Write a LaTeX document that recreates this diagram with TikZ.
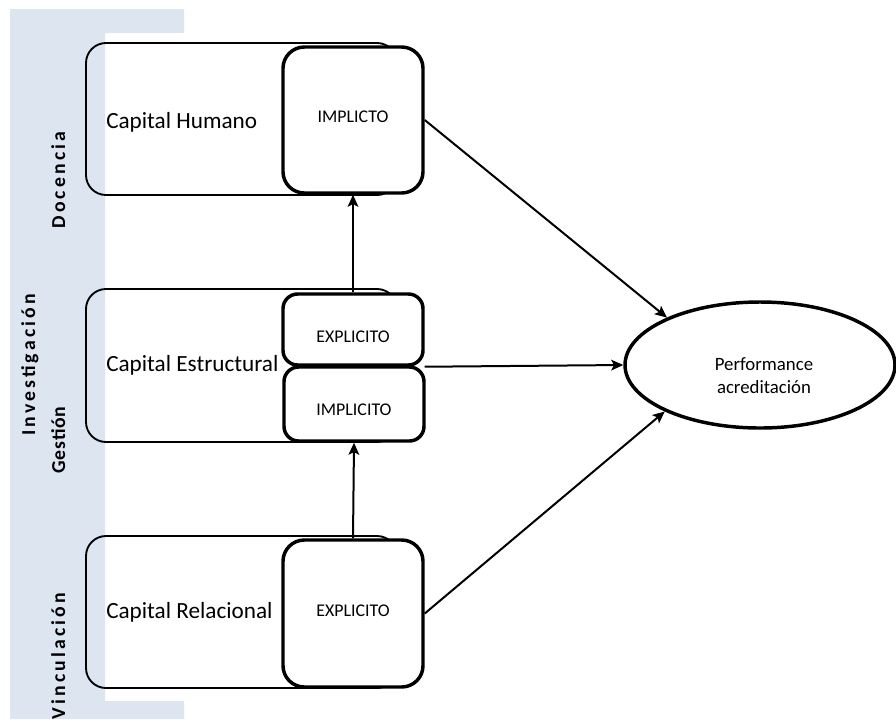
\documentclass[tikz,border=0pt]{standalone}
\usepackage{fontspec}
\setmainfont{Carlito}
\newfontfamily\sidefont{Carlito}[LetterSpace=16]
\newfontfamily\sidefontnarrow{Carlito}[LetterSpace=4]
\usetikzlibrary{arrows.meta,shapes.geometric}
\definecolor{bandblue}{RGB}{220,229,240}

\begin{document}
\begin{tikzpicture}[x=0.75pt,y=0.75pt]
\tikzstyle{every node}+=[inner sep=0pt]
\tikzstyle{capbox}=[draw=black, line width=1.4pt, rounded corners=15pt, minimum width=233.25pt]
\tikzstyle{knowbox}=[draw=black, fill=white, line width=2.6pt, rounded corners=16pt, minimum width=105pt]
\tikzstyle{smallbox}=[knowbox, rounded corners=11pt]
\tikzstyle{link}=[black, line width=1.5pt, -{Stealth[length=9pt,width=8pt,inset=2pt]}]
\tikzstyle{captext}=[font=\fontsize{17.4}{20}\selectfont, anchor=base west]
\tikzstyle{knowtext}=[font=\fontsize{13.4}{16}\selectfont]
\tikzstyle{sidetext}=[font=\fontsize{14.8}{18}\sidefont\bfseries, rotate=90, anchor=base]
\useasboundingbox (0,0) rectangle (896,-719);
% band
\fill [bandblue] (10,-9) -- (184,-9) -- (184,-33) -- (105,-33) -- (105,-701) -- (184,-701) -- (184,-719) -- (10,-719) -- cycle;
\draw (65,-180) node [sidetext] (doc) {Docencia};
\draw (35,-365) node [sidetext] (inv) {Investigación};
\draw (65,-440) node [sidetext, font=\fontsize{14.8}{18}\sidefontnarrow\bfseries] (ges) {Gestión};
\draw (65,-656) node [sidetext] (vin) {Vinculación};
% capital boxes
\draw (241.5,-119) node [capbox, minimum height=114pt] (hum) {};
\draw (106,-128) node [captext] (humtxt) {Capital Humano};
\draw (241.5,-365.5) node [capbox, minimum height=114.75pt] (est) {};
\draw (106,-371) node [captext] (esttxt) {Capital Estructural};
\draw (241.5,-612) node [capbox, minimum height=114pt] (rel) {};
\draw (106,-618) node [captext] (reltxt) {Capital Relacional};
% knowledge boxes
\draw (353,-120) node [knowbox, minimum height=109.5pt] (humimp) {};
\draw (353,-117) node [knowtext] (humimptxt) {IMPLICTO};
\draw (353,-329.5) node [smallbox, minimum height=53.25pt] (estexp) {};
\draw (353,-337) node [knowtext] (estexptxt) {EXPLICITO};
\draw (354,-404) node [smallbox, minimum height=55.5pt] (estimp) {};
\draw (354,-410) node [knowtext] (estimptxt) {IMPLICITO};
\draw (353,-613.5) node [knowbox, minimum height=110.25pt] (relexp) {};
\draw (353,-611) node [knowtext] (relexptxt) {EXPLICITO};
% outcome
\draw (760,-365) node [ellipse, draw=black, line width=2.6pt, minimum width=202.5pt, minimum height=94.5pt] (perf) {};
\draw (764,-376) node [align=center, font=\fontsize{14.1}{17.3}\selectfont] (perftxt) {Performance\\acreditación};
% links
\draw [link] (estexp.north) -- (humimp.south);
\draw [link] (relexp.north) -- (estimp.south);
\draw [link] (humimp.east) -- (perf.153.7);
\draw [link] (estexp.south east) -- (perf.west);
\draw [link] (relexp.east) -- (perf.206.3);
\end{tikzpicture}
\end{document}
